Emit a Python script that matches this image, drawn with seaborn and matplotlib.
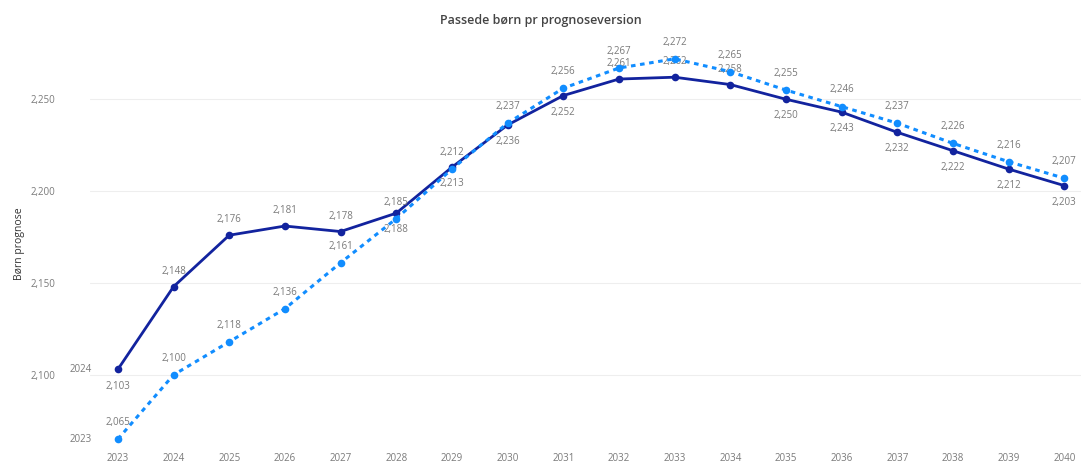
import matplotlib
matplotlib.use("Agg")
import matplotlib.pyplot as plt
import seaborn as sns
import pandas as pd

years = list(range(2023, 2041))
v2024 = [2103, 2148, 2176, 2181, 2178, 2188, 2213, 2236, 2252, 2261, 2262, 2258,
         2250, 2243, 2232, 2222, 2212, 2203]
v2023 = [2065, 2100, 2118, 2136, 2161, 2185, 2212, 2237, 2256, 2267, 2272, 2265,
         2255, 2246, 2237, 2226, 2216, 2207]
series_names = ["2024", "2023"]
yticks = [2100, 2150, 2200, 2250]

# label placement for the 2024 series (above / below the point)
pos2024 = ["below", "above", "above", "above", "above", "below", "below", "below",
           "below", "above", "above", "above", "below", "below", "below", "below",
           "below", "below"]

sns.set_theme(style="white")
plt.rcParams["font.family"] = ["Open Sans", "DejaVu Sans"]

dark = "#12239E"
light = "#118DFF"
grey = "#7a7a7a"

fig = plt.figure(figsize=(10.81, 4.66), dpi=100)
ax = fig.add_axes([0.0833, 0.03, 0.9167, 0.895])

df_a = pd.DataFrame({"År": years, "Børn prognose": v2024})
df_b = pd.DataFrame({"År": years, "Børn prognose": v2023})

sns.lineplot(data=df_a, x="År", y="Børn prognose", ax=ax, color=dark,
             linewidth=2, marker="o", markersize=5.5, markeredgewidth=0, zorder=3)
sns.lineplot(data=df_b, x="År", y="Børn prognose", ax=ax, color=light,
             linewidth=2.2, linestyle=(0, (1.5, 1.5)), marker="o", markersize=5.5,
             markeredgewidth=0, zorder=4)

for x, y, p in zip(years, v2024, pos2024):
    off = 11 if p == "above" else -12
    ax.annotate(f"{y:,}", (x, y), xytext=(0, off), textcoords="offset points",
                ha="center", va="center", fontsize=7, color=grey)
for x, y in zip(years, v2023):
    ax.annotate(f"{y:,}", (x, y), xytext=(0, 12), textcoords="offset points",
                ha="center", va="center", fontsize=7, color=grey)

# series name labels at the start of each line
ax.annotate(series_names[0], (years[0], v2024[0]), xytext=(-19, 0),
            textcoords="offset points", ha="right", va="center", fontsize=7, color=grey)
ax.annotate(series_names[1], (years[0], v2023[0]), xytext=(-19, 0),
            textcoords="offset points", ha="right", va="center", fontsize=7, color=grey)

ax.set_xlim(2022.5, 2040.3)
ax.set_ylim(2058, 2285)
ax.set_xticks(years)
ax.set_xticklabels([str(y) for y in years])
ax.set_yticks(yticks)
ax.set_yticklabels([f"{t:,}" for t in yticks])
ax.tick_params(axis="x", labelsize=7, colors=grey, pad=1, length=0)
ax.tick_params(axis="y", labelsize=7, colors=grey, pad=25, length=0)
ax.yaxis.grid(True, color="#eeeeee", linewidth=0.8)
ax.xaxis.grid(False)
for s in ax.spines.values():
    s.set_visible(False)
ax.set_xlabel("")
ax.set_ylabel("Børn prognose", fontsize=7.5, color="#333333", labelpad=4)
ax.yaxis.set_label_coords(-0.066, 0.5)

fig.text(0.5, 0.957, "Passede børn pr prognoseversion", ha="center", va="center",
         fontsize=9, color="#444444", fontweight="semibold")

fig.savefig("out.png", dpi=100)
